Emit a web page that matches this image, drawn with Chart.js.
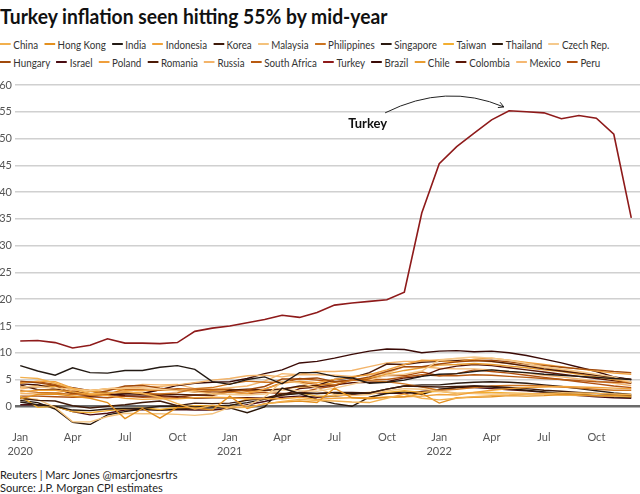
<!DOCTYPE html>
<html>
<head>
<meta charset="utf-8">
<script src="https://cdn.jsdelivr.net/npm/chart.js@4.4.0/dist/chart.umd.min.js"></script>
<style>
  html, body { margin: 0; padding: 0; background: #fff; }
  body { width: 640px; height: 494px; position: relative; overflow: hidden; font-family: Lato, "Open Sans", sans-serif; }
  #title { position: absolute; left: 0; top: 4px; font-weight: 700; font-size: 20px; color: #111; white-space: nowrap; transform: scaleX(0.965); transform-origin: left top; }
  .lrow { position: absolute; left: 0; height: 16px; display: flex; align-items: center; font-size: 11px; color: #333; white-space: nowrap; transform: scaleX(0.89); transform-origin: left center; }
  .item { display: flex; align-items: center; margin-right: 7px; }
  .sw { width: 12px; height: 2px; margin-right: 3px; }
  #wrap { position: absolute; left: 0; top: 72px; width: 640px; height: 391px; }
  .foot { position: absolute; left: 0; font-size: 11px; color: #222; white-space: nowrap; }
</style>
</head>
<body>
<div id="title">Turkey inflation seen hitting 55% by mid-year</div>
<div class="lrow" id="row1" style="top:36px"></div>
<div class="lrow" id="row2" style="top:54px"></div>
<div id="wrap"><canvas id="c" width="640" height="391"></canvas></div>
<div class="foot" style="top:468px">Reuters | Marc Jones @marcjonesrtrs</div>
<div class="foot" style="top:481px">Source: J.P. Morgan CPI estimates</div>
<script>
// Months: Jan 2020 .. Dec 2022
const monthNames = ['Jan','Feb','Mar','Apr','May','Jun','Jul','Aug','Sep','Oct','Nov','Dec'];
const years = ['2020','2021','2022'];
const months = [];
years.forEach(y => monthNames.forEach(m => months.push(m + ' ' + y)));
const yTicks = [0,5,10,15,20,25,30,35,40,45,50,55,60];

const countries = ['China','Hong Kong','India','Indonesia','Korea','Malaysia','Philippines','Singapore','Taiwan','Thailand','Czech Rep.','Hungary','Israel','Poland','Romania','Russia','South Africa','Turkey','Brazil','Chile','Colombia','Mexico','Peru'];
const colors = ['#f2b04e','#e3901f','#231a14','#f0a23a','#3f1a0a','#f4c27c','#cc7420','#2b1a10','#f2ae30','#2a170a','#f5c98c','#a04a0c','#4a0c12','#ef9f3c','#4c1a06','#f3b46a','#b85a10','#8e1a1a','#3a0a06','#e89c30','#5c1606','#f5b872','#b0500f'];

const china      = [5.4,5.2,4.3,3.3,2.4,2.5,2.7,2.4,1.7,0.5,-0.5,0.2, -0.3,-0.2,0.4,0.9,1.3,1.1,1.0,0.8,0.7,1.5,2.3,1.5, 1.2,1.5,1.8,2.0,2.1,2.3,2.4,2.5,2.5,2.4,2.3,2.2];
const hongKong   = [1.4,2.2,2.3,1.9,1.5,0.7,-2.3,-0.4,-2.2,-0.2,-0.3,-0.7, 1.9,-0.4,0.5,0.8,1.0,0.7,3.4,1.6,1.4,1.7,1.8,2.4, 0.6,1.6,1.7,1.8,2.0,1.9,2.0,2.2,2.1,2.0,2.0,1.9];
const india      = [7.6,6.6,5.8,7.2,6.3,6.2,6.7,6.7,7.3,7.6,6.9,4.6, 4.1,5.0,5.5,4.2,6.3,6.3,5.6,5.3,4.3,4.5,4.9,5.6, 6.0,6.1,6.5,6.8,6.5,6.3,6.0,5.8,5.6,5.4,5.2,5.0];
const indonesia  = [2.7,3.0,3.0,2.7,2.2,2.0,1.5,1.3,1.4,1.4,1.6,1.7, 1.6,1.4,1.4,1.4,1.7,1.3,1.5,1.6,1.6,1.7,1.8,1.9, 2.2,2.1,2.6,3.0,3.3,3.5,3.6,3.7,3.6,3.5,3.4,3.3];
const korea      = [1.5,1.1,1.0,0.1,-0.3,0.0,0.3,0.7,1.0,0.1,0.6,0.5, 0.6,1.1,1.5,2.3,2.6,2.4,2.6,2.6,2.5,3.2,3.8,3.7, 3.6,3.7,3.8,3.7,3.5,3.3,3.0,2.8,2.6,2.4,2.2,2.0];
const malaysia   = [1.6,1.3,-0.2,-2.9,-2.9,-1.9,-1.3,-1.4,-1.4,-1.5,-1.7,-1.4, -0.2,0.1,1.7,4.7,4.4,3.4,2.2,2.0,2.2,2.9,3.3,3.2, 2.8,2.5,2.4,2.3,2.4,2.3,2.2,2.1,2.0,2.0,1.9,1.9];
const philippines= [2.9,2.6,2.5,2.2,2.1,2.5,2.7,2.4,2.3,2.5,3.3,3.5, 4.2,4.7,4.5,4.5,4.5,4.1,4.0,4.9,4.8,4.6,4.2,3.6, 3.0,3.2,3.5,3.8,3.9,3.9,3.8,3.6,3.4,3.2,3.0,3.0];
const singapore  = [0.8,0.3,0.0,-0.7,-0.8,-0.5,-0.4,-0.4,0.0,0.0,-0.1,0.0, 0.2,0.7,1.3,2.1,2.4,2.4,2.5,2.4,2.5,3.2,3.8,4.0, 4.0,4.3,4.5,4.6,4.5,4.3,4.0,3.7,3.3,2.9,2.5,2.2];
const taiwan     = [1.9,-0.2,0.0,-1.0,-1.2,-0.8,-0.5,-0.3,-0.6,-0.2,0.1,0.1, -0.2,1.4,1.3,2.1,2.5,1.9,1.9,2.4,2.6,2.6,2.9,2.6, 2.8,2.4,2.6,2.6,2.5,2.4,2.3,2.2,2.1,2.0,1.9,1.8];
const thailand   = [1.1,0.7,-0.5,-3.0,-3.4,-1.6,-1.0,-0.5,-0.7,-0.5,-0.4,-0.3, -0.3,-1.2,-0.1,3.4,2.4,1.3,0.5,0.0,1.7,2.4,2.7,2.2, 3.2,3.5,3.8,3.6,3.3,3.0,2.7,2.4,2.2,2.0,1.8,1.7];
const czech      = [3.6,3.7,3.4,3.2,2.9,3.3,3.4,3.3,3.2,2.9,2.7,2.3, 2.2,2.1,2.3,3.1,2.9,2.8,3.4,4.1,4.9,5.8,6.0,6.6, 8.6,9.0,9.2,9.0,8.6,8.0,7.4,7.0,6.5,6.0,5.5,4.5];
const hungary    = [4.7,4.4,3.9,2.4,2.2,2.9,3.8,3.9,3.4,3.0,2.7,2.7, 2.7,3.1,3.7,5.1,5.1,5.3,4.6,4.9,5.5,6.5,7.4,7.4, 7.9,8.3,8.5,8.6,8.3,7.9,7.6,7.3,7.0,6.8,6.5,6.3];
const israel     = [0.3,0.3,0.0,-1.0,-1.6,-1.3,-0.7,-0.6,-0.7,-0.6,-0.7,-0.7, -0.4,0.3,0.9,1.7,1.9,1.7,1.9,2.2,2.5,2.5,2.4,2.8, 3.1,3.5,3.5,3.3,3.1,2.9,2.6,2.3,2.0,1.8,1.6,1.5];
const poland     = [4.3,4.7,4.6,3.4,2.9,3.3,3.0,2.9,3.2,3.1,3.0,2.4, 2.6,2.4,3.2,4.3,4.7,4.4,5.0,5.5,5.9,6.8,7.8,8.6, 8.5,8.3,8.8,9.0,8.6,8.2,7.8,7.4,7.0,6.6,6.2,6.0];
const romania    = [4.0,3.1,3.1,2.7,2.3,2.6,2.5,2.2,2.2,2.2,2.1,2.1, 3.0,3.2,3.0,3.2,3.8,3.9,5.0,5.3,6.3,7.9,7.8,8.2, 8.4,8.5,8.6,8.4,8.0,7.5,7.0,6.6,6.2,5.8,5.4,5.0];
const russia     = [2.4,2.3,2.5,3.1,3.0,3.2,3.4,3.6,3.7,4.0,4.4,4.9, 5.2,5.7,5.8,5.5,6.0,6.5,6.5,6.7,7.4,8.1,8.4,8.4, 8.7,8.9,8.6,8.3,8.0,7.6,7.2,6.8,6.3,5.8,5.2,4.5];
const southAfrica= [4.5,4.6,4.1,3.0,2.1,2.2,3.2,3.1,3.0,3.3,3.2,3.1, 3.2,2.9,3.2,4.4,5.2,4.9,4.6,4.9,5.0,5.0,5.5,5.9, 5.7,5.7,5.9,5.8,5.6,5.4,5.2,5.0,4.8,4.6,4.5,4.4];
const turkey     = [12.2,12.3,11.9,10.9,11.4,12.6,11.8,11.8,11.7,11.9,14.0,14.6, 15.0,15.6,16.2,17.0,16.6,17.5,18.9,19.3,19.6,19.9,21.3,36.1, 45.3,48.5,51.0,53.5,55.2,55.0,54.8,53.7,54.3,53.8,50.8,35.2];
const brazil     = [4.2,4.0,3.3,2.4,1.9,2.1,2.3,2.4,3.1,3.9,4.3,4.5, 4.6,5.2,6.1,6.8,8.1,8.4,9.0,9.7,10.3,10.7,10.6,10.0, 10.3,10.4,10.2,10.3,10.0,9.5,8.8,8.1,7.3,6.5,5.5,5.0];
const chile      = [3.5,3.9,3.7,3.4,2.8,2.6,2.5,2.4,3.1,3.0,2.7,3.0, 3.1,2.8,2.9,3.3,3.6,3.8,4.5,4.8,5.3,6.0,6.7,7.2, 7.7,7.8,8.0,7.8,7.5,7.2,6.8,6.5,6.0,5.5,5.0,4.5];
const colombia   = [3.6,3.7,3.9,3.5,2.9,2.2,2.0,1.9,2.0,1.8,1.5,1.6, 1.6,1.6,1.5,2.0,3.3,3.6,4.0,4.4,4.5,4.6,5.3,5.6, 6.9,7.5,7.8,7.6,7.2,6.8,6.4,6.0,5.6,5.2,4.8,4.3];
const mexico     = [3.2,3.7,3.3,2.2,2.8,3.3,3.6,4.1,4.0,4.1,3.3,3.2, 3.5,3.8,4.7,6.1,5.9,5.9,5.8,5.6,6.0,6.2,7.4,7.4, 7.1,7.0,7.0,6.8,6.5,6.2,5.8,5.5,5.1,4.7,4.3,3.9];
const peru       = [1.9,1.9,1.8,1.7,1.8,1.6,1.9,1.7,1.8,1.7,2.1,2.0, 2.7,2.4,2.6,2.4,2.5,3.3,3.8,5.0,5.2,5.8,5.7,6.4, 5.7,6.1,6.8,6.5,6.2,5.8,5.4,5.0,4.6,4.2,3.8,3.5];

const seriesValues = [china,hongKong,india,indonesia,korea,malaysia,philippines,singapore,taiwan,thailand,czech,hungary,israel,poland,romania,russia,southAfrica,turkey,brazil,chile,colombia,mexico,peru];

// HTML legend (two rows, as in the reference)
countries.forEach((name, i) => {
  const row = document.getElementById(i < 11 ? 'row1' : 'row2');
  const it = document.createElement('div'); it.className = 'item';
  const sw = document.createElement('div'); sw.className = 'sw'; sw.style.background = colors[i];
  const tx = document.createElement('span'); tx.textContent = name;
  it.appendChild(sw); it.appendChild(tx); row.appendChild(it);
});

const datasets = countries.map((name, i) => ({
  label: name,
  data: seriesValues[i].map((v, k) => ({x: k, y: v})),
  borderColor: colors[i],
  backgroundColor: colors[i],
  borderWidth: name === 'Turkey' ? 1.6 : 1.4,
  pointRadius: 0,
  tension: 0,
  order: name === 'Turkey' ? 0 : 1
}));

const annot = {
  id: 'annot',
  afterDatasetsDraw(chart) {
    const {ctx, scales: {x, y}} = chart;
    ctx.save();
    ctx.fillStyle = '#111';
    ctx.font = 'bold 13px Lato, sans-serif';
    ctx.textAlign = 'center';
    ctx.textBaseline = 'middle';
    ctx.fillText('Turkey', x.getPixelForValue(19.9), y.getPixelForValue(52.7));
    const x0 = x.getPixelForValue(20.9), y0 = y.getPixelForValue(54.8);
    const cx = x.getPixelForValue(24.4), cy = y.getPixelForValue(60.5);
    const x1 = x.getPixelForValue(27.7), y1 = y.getPixelForValue(55.9);
    ctx.strokeStyle = '#222';
    ctx.lineWidth = 1;
    ctx.beginPath();
    ctx.moveTo(x0, y0);
    ctx.quadraticCurveTo(cx, cy, x1, y1);
    ctx.stroke();
    const ang = Math.atan2(y1 - cy, x1 - cx);
    ctx.beginPath();
    ctx.moveTo(x1 - 6 * Math.cos(ang - 0.5), y1 - 6 * Math.sin(ang - 0.5));
    ctx.lineTo(x1, y1);
    ctx.lineTo(x1 - 6 * Math.cos(ang + 0.5), y1 - 6 * Math.sin(ang + 0.5));
    ctx.stroke();
    ctx.restore();
  }
};

new Chart(document.getElementById('c'), {
  type: 'line',
  data: { datasets },
  options: {
    responsive: false,
    animation: false,
    layout: { padding: { top: 13, left: 0, right: 0, bottom: 0 } },
    plugins: { legend: { display: false }, tooltip: { enabled: false } },
    scales: {
      x: {
        type: 'linear',
        min: -0.3,
        max: 35.5,
        afterBuildTicks: (s) => { s.ticks = months.map((m, i) => i).filter(i => i % 3 === 0).map(v => ({value: v})); },
        afterFit: (s) => { s.paddingLeft = 0; s.paddingRight = 0; },
        ticks: {
          autoSkip: false,
          maxRotation: 0,
          padding: 5,
          color: '#555',
          font: { family: 'Lato', size: 11, lineHeight: 1.27 },
          callback: (v) => {
            const [mn, yr] = months[v].split(' ');
            return mn === 'Jan' ? [mn, yr] : mn;
          }
        },
        grid: { display: false, drawTicks: false },
        border: { display: false }
      },
      y: {
        min: -3.5,
        max: 60,
        afterBuildTicks: (s) => { s.ticks = yTicks.map(v => ({value: v})); },
        afterFit: (s) => { s.width = 15; },
        ticks: { padding: 3, color: '#555', font: { family: 'Lato', size: 11 } },
        grid: {
          drawTicks: false,
          color: (c) => c.tick && c.tick.value === 0 ? '#6b6b6b' : '#d0d0d0',
          lineWidth: (c) => c.tick && c.tick.value === 0 ? 2.5 : 1.5
        },
        border: { display: false }
      }
    }
  },
  plugins: [annot]
});
</script>
</body>
</html>
